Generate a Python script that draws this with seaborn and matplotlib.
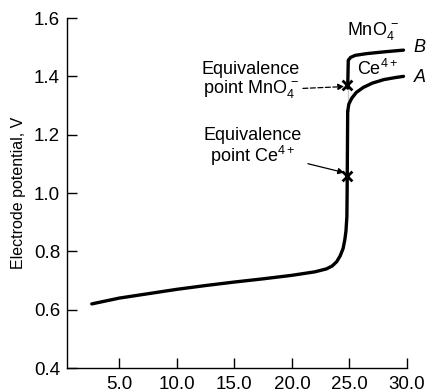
import numpy as np
import pandas as pd
import matplotlib
matplotlib.use('Agg')
import matplotlib.pyplot as plt
import seaborn as sns

# ── Data ──────────────────────────────────────────────────────────────────────
vol_main = [2.6, 5.0, 7.5, 10.0, 12.5, 15.0, 17.5, 20.0, 22.0, 23.0, 23.5, 23.9, 24.2, 24.45, 24.6, 24.7, 24.78, 24.8, 24.85]
pot_main = [0.62, 0.64, 0.655, 0.67, 0.683, 0.695, 0.706, 0.718, 0.73, 0.74, 0.75, 0.765, 0.785, 0.81, 0.84, 0.87, 0.92, 1.00, 1.28]

vol_ce = [24.85, 24.95, 25.2, 25.6, 26.2, 27.0, 28.0, 29.0, 29.7]          # curve A (Ce4+)
pot_ce = [1.28, 1.305, 1.325, 1.345, 1.362, 1.377, 1.389, 1.396, 1.40]

vol_mn = [24.85, 24.85, 24.9, 25.1, 25.5, 26.5, 28.0, 29.7]               # curve B (MnO4-)
pot_mn = [1.28, 1.44, 1.455, 1.465, 1.472, 1.478, 1.484, 1.49]

eq_vol = [24.8, 24.8]
eq_pot = [1.37, 1.06]

# ── Setup ─────────────────────────────────────────────────────────────────────
sns.set_theme(style='white')
plt.rcParams['font.family'] = ['Liberation Sans', 'DejaVu Sans']
plt.rcParams['mathtext.fontset'] = 'custom'
plt.rcParams['mathtext.rm'] = 'Liberation Sans'
plt.rcParams['mathtext.it'] = 'Liberation Sans:italic'
plt.rcParams['text.color'] = 'black'
plt.rcParams['axes.labelcolor'] = 'black'

fig = plt.figure(figsize=(4.27, 3.92), dpi=100)
ax = fig.add_axes([0.157, 0.061, 0.796, 0.893])

df_main = pd.DataFrame({'vol': vol_main, 'pot': pot_main})
df_ce = pd.DataFrame({'vol': vol_ce, 'pot': pot_ce})
df_mn = pd.DataFrame({'vol': vol_mn, 'pot': pot_mn})

for d in (df_main, df_ce, df_mn):
    sns.lineplot(data=d, x='vol', y='pot', sort=False, color='black', lw=2.4, ax=ax)

sns.scatterplot(x=eq_vol, y=eq_pot, marker='x', s=50, color='black', linewidth=2, ax=ax, zorder=5)

# ── Annotations ───────────────────────────────────────────────────────────────
fs = 13
ax.annotate('Equivalence\npoint MnO$_4^{\\,-}$', xy=(24.55, 1.365), xytext=(16.4, 1.385),
            ha='center', va='center', fontsize=fs, linespacing=1.0, color='black',
            arrowprops=dict(arrowstyle='-|>', color='black', lw=0.9, ls=(0, (4, 2)),
                            shrinkA=0, shrinkB=0, mutation_scale=9, relpos=(1.0, 0.3)),
            annotation_clip=False)
ax.annotate('Equivalence\npoint Ce$^{4+}$', xy=(24.55, 1.07), xytext=(16.6, 1.155),
            ha='center', va='center', fontsize=fs, linespacing=1.0, color='black',
            arrowprops=dict(arrowstyle='-|>', color='black', lw=0.9,
                            shrinkA=2, shrinkB=0, mutation_scale=9,
                            relpos=(1.0, 0.15)),
            annotation_clip=False)

ax.text(27.0, 1.555, 'MnO$_4^{\\,-}$', ha='center', va='center', fontsize=fs, color='black')
ax.text(27.4, 1.425, 'Ce$^{4+}$', ha='center', va='center', fontsize=fs, color='black')
ax.text(30.6, 1.50, 'B', ha='left', va='center', fontsize=fs, style='italic', color='black')
ax.text(30.6, 1.395, 'A', ha='left', va='center', fontsize=fs, style='italic', color='black')

# ── Axes ──────────────────────────────────────────────────────────────────────
ax.set_xlim(0.45, 30)
ax.set_ylim(0.4, 1.6)
ax.set_xticks([5, 10, 15, 20, 25, 30])
ax.set_xticklabels(['5.0', '10.0', '15.0', '20.0', '25.0', '30.0'])
ax.set_yticks([0.4, 0.6, 0.8, 1.0, 1.2, 1.4, 1.6])
ax.set_yticklabels(['0.4', '0.6', '0.8', '1.0', '1.2', '1.4', '1.6'])
ax.tick_params(axis='both', direction='in', length=7, width=1, labelsize=13.5,
               bottom=True, left=True, colors='black')
ax.tick_params(axis='y', pad=5)
ax.tick_params(axis='x', pad=6)
ax.set_xlabel('')
ax.set_ylabel('Electrode potential, V', fontsize=11.5, labelpad=6, color='black')
ax.spines['top'].set_visible(False)
ax.spines['right'].set_visible(False)
for s in ('left', 'bottom'):
    ax.spines[s].set_color('black')
    ax.spines[s].set_linewidth(1.0)

plt.savefig('out.png', dpi=100)
plt.close()
